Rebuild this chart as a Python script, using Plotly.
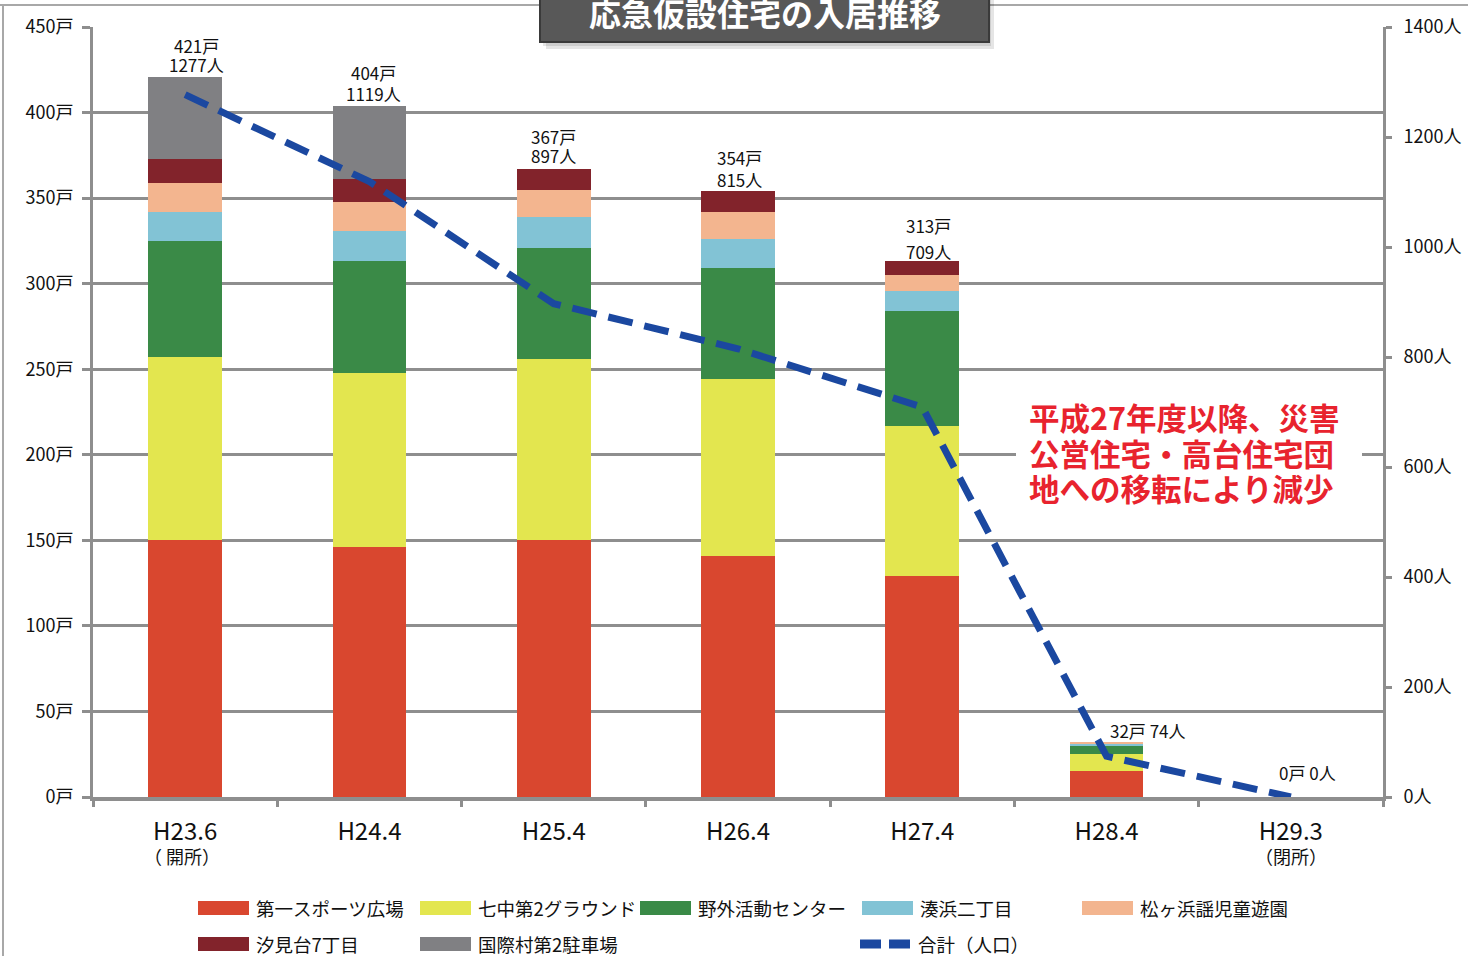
import plotly.graph_objects as go

# ---------------- data ----------------
categories = ["H23.6", "H24.4", "H25.4", "H26.4", "H27.4", "H28.4", "H29.3"]
tick_labels = ["H23.6", "H24.4", "H25.4", "H26.4", "H27.4", "H28.4", "H29.3"]
sub_labels = {"H23.6": "（ 開所）", "H29.3": "（閉所）"}
series_names = ["第一スポーツ広場", "七中第2グラウンド", "野外活動センター", "湊浜二丁目",
                "松ヶ浜謡児童遊園", "汐見台7丁目", "国際村第2駐車場"]
daiichi_sports = [150, 146, 150, 141, 129, 15, 0]
nanachu_ground = [107, 102, 106, 103, 88, 10, 0]
yagai_center = [68, 65, 65, 65, 67, 5, 0]
minatohama = [17, 18, 18, 17, 12, 1, 0]
matsugahama = [17, 17, 16, 16, 9, 1, 0]
shiomidai = [14, 13, 12, 12, 8, 0, 0]
kokusaimura = [48, 43, 0, 0, 0, 0, 0]
total_households = [421, 404, 367, 354, 313, 32, 0]
total_people = [1277, 1119, 897, 815, 709, 74, 0]
line_name = "合計（人口）"
left_ticks = list(range(0, 451, 50))
right_ticks = list(range(0, 1401, 200))
note_lines = ["平成27年度以降、災害", "公営住宅・高台住宅団", "地への移転により減少"]
title_text = "応急仮設住宅の入居推移"

colors = ["#d9472f", "#e3e64f", "#3a8a47", "#82c3d5", "#f3b58f", "#82232b", "#808083"]
line_color = "#1b48a0"
grid_color = "#8e8e8e"
FONT = "Noto Sans CJK JP"

series = [daiichi_sports, nanachu_ground, yagai_center, minatohama,
          matsugahama, shiomidai, kokusaimura]

fig = go.Figure()
for name, vals, col in zip(series_names, series, colors):
    fig.add_trace(go.Bar(x=categories, y=vals, name=name, marker_color=col,
                         marker_line_width=0, showlegend=False))

fig.add_trace(go.Scatter(x=categories, y=total_people, name=line_name, yaxis="y2",
                         mode="lines", line=dict(color=line_color, width=7, dash="25px,12px"),
                         showlegend=False))

# value labels above bars (style offsets in pixels)
label_dx = [11, 4, 0, 1, 6]
people_dy = [12, 12, 14, 12, 10]
house_dy = [31, 33, 33, 34, 36]
lab_font = dict(size=17, color="#111111", family=FONT)
for i, (c, h, p) in enumerate(zip(categories, total_households, total_people)):
    if i < 5:
        fig.add_annotation(x=c, y=h, text=f"{h}戸", showarrow=False, yanchor="middle",
                           yshift=house_dy[i], xshift=label_dx[i], font=lab_font)
        fig.add_annotation(x=c, y=h, text=f"{p}人", showarrow=False, yanchor="middle",
                           yshift=people_dy[i], xshift=label_dx[i], font=lab_font)
    else:
        fig.add_annotation(x=c, y=h, text=f"{h}戸 {p}人", showarrow=False,
                           yanchor="middle", yshift=12 if i == 5 else 25,
                           xshift=41 if i == 5 else 17, font=lab_font)

# "(開所)/(閉所)" sub-labels beneath category ticks
for c, s in sub_labels.items():
    fig.add_annotation(x=c, xref="x", yref="paper", y=0, text=s, showarrow=False,
                       yanchor="middle", yshift=-59, xshift=-3 if c == "H23.6" else 0,
                       font=dict(size=18, color="#111111", family=FONT))

# Plot area geometry (pixels) for paper-coordinate helpers
L, R, T, B = 93, 85, 27, 159
W, H = 1468, 956
PW, PH = W - L - R, H - T - B


def px(x):
    return (x - L) / PW


def py(y):
    return (H - B - y) / PH


shapes = []
# outer frame
shapes.append(dict(type="line", xref="paper", yref="paper", x0=px(0), x1=px(1468),
                   y0=py(5), y1=py(5), line=dict(color="#a8a8a8", width=2), layer="below"))
shapes.append(dict(type="line", xref="paper", yref="paper", x0=px(3), x1=px(3),
                   y0=py(5), y1=py(960), line=dict(color="#a8a8a8", width=2), layer="below"))

# title box with shadow
shapes.append(dict(type="rect", xref="paper", yref="paper", x0=px(546), x1=px(994),
                   y0=py(-10), y1=py(49), fillcolor="rgba(0,0,0,0.10)", line_width=0))
shapes.append(dict(type="rect", xref="paper", yref="paper", x0=px(543), x1=px(991),
                   y0=py(-10), y1=py(46), fillcolor="rgba(0,0,0,0.10)", line_width=0))
shapes.append(dict(type="rect", xref="paper", yref="paper", x0=px(540), x1=px(989),
                   y0=py(-10), y1=py(42), fillcolor="#585858",
                   line=dict(color="#3a3a3a", width=2)))

# white box behind the note
shapes.append(dict(type="rect", xref="paper", yref="paper", x0=px(1016), x1=px(1362),
                   y0=py(396), y1=py(508), fillcolor="white", line_width=0))

# legend
legend_rows = [
    (198, 908, 0), (420, 908, 1), (640, 908, 2), (862, 908, 3), (1082, 908, 4),
    (198, 944, 5), (420, 944, 6),
]
annotations = []
for (lx, ly, idx) in legend_rows:
    shapes.append(dict(type="rect", xref="paper", yref="paper", x0=px(lx), x1=px(lx + 51),
                       y0=py(ly + 7), y1=py(ly - 7), fillcolor=colors[idx], line_width=0))
    annotations.append(dict(xref="paper", yref="paper", x=px(lx + 56), y=py(ly),
                            text=series_names[idx], showarrow=False, xanchor="left",
                            yanchor="middle", font=dict(size=18.5, color="#111111", family=FONT)))
# line legend
shapes.append(dict(type="line", xref="paper", yref="paper", x0=px(860), x1=px(910),
                   y0=py(944), y1=py(944),
                   line=dict(color=line_color, width=9, dash="21px,8px")))
annotations.append(dict(xref="paper", yref="paper", x=px(916), y=py(944), text=line_name,
                        showarrow=False, xanchor="left", yanchor="middle",
                        font=dict(size=18.5, color="#111111", family=FONT)))

# title text
annotations.append(dict(xref="paper", yref="paper", x=px(765), y=py(12),
                        text=f"<b>{title_text}</b>", showarrow=False,
                        xanchor="center", yanchor="middle",
                        font=dict(size=32, color="white", family=FONT)))

# red commentary
for k, (line, yy) in enumerate(zip(note_lines, [417, 453, 488])):
    annotations.append(dict(xref="paper", yref="paper", x=px(1027), y=py(yy),
                            text=f"<b>{line}</b>", showarrow=False, xanchor="left",
                            yanchor="middle",
                            font=dict(size=30.5, color="#e8232e", family=FONT)))

for a in annotations:
    fig.add_annotation(**a)

fig.update_layout(
    width=W, height=H, autosize=False,
    margin=dict(l=L, r=R, t=T, b=B, autoexpand=False),
    paper_bgcolor="white", plot_bgcolor="white",
    barmode="stack", bargap=0.6,
    font=dict(family=FONT, color="#111111"),
    shapes=shapes,
    showlegend=False,
    xaxis=dict(
        tickmode="array", tickvals=categories, ticktext=tick_labels,
        tickfont=dict(size=24, family=FONT, color="#111111"),
        ticks="outside", tickson="boundaries", ticklen=6, tickwidth=3, tickcolor=grid_color,
        showline=True, linecolor=grid_color, linewidth=4,
        showgrid=False, ticklabelstandoff=10, automargin=False,
    ),
    yaxis=dict(
        range=[0, 450], tickmode="array", tickvals=left_ticks,
        ticktext=[f"{v}戸" for v in left_ticks],
        tickfont=dict(size=18, family=FONT, color="#111111"),
        ticks="outside", ticklen=8, tickwidth=3, tickcolor=grid_color,
        showgrid=True, gridcolor=grid_color, gridwidth=3,
        showline=True, linecolor=grid_color, linewidth=3,
        zeroline=False, ticklabelstandoff=5, automargin=False,
    ),
    yaxis2=dict(
        range=[0, 1400], overlaying="y", side="right",
        tickmode="array", tickvals=right_ticks,
        ticktext=[f"{v}人" for v in right_ticks],
        tickfont=dict(size=18, family=FONT, color="#111111"),
        ticks="outside", ticklen=6, tickwidth=3, tickcolor=grid_color,
        showgrid=False, showline=True, linecolor=grid_color, linewidth=3,
        zeroline=False, ticklabelstandoff=8, automargin=False,
    ),
)

fig.write_html("out.html", config={"displayModeBar": False},
               post_script="document.body.style.margin='0px';document.body.style.padding='0px';")
